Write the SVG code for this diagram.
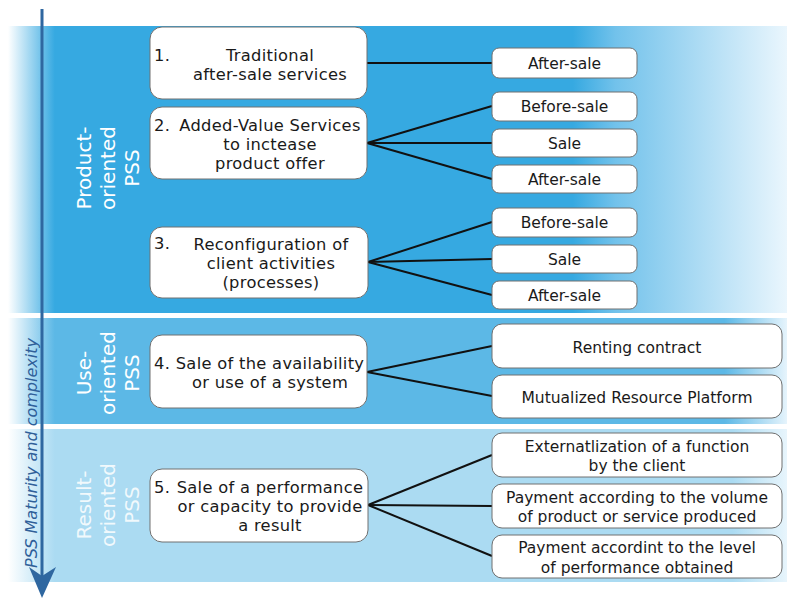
<svg xmlns="http://www.w3.org/2000/svg" width="787" height="599" viewBox="0 0 787 599">
<defs>
<linearGradient id="g1" gradientUnits="userSpaceOnUse" x1="8" y1="0" x2="787" y2="0">
<stop offset="0" stop-color="#ffffff"/>
<stop offset="0.06" stop-color="#36a9e1"/>
<stop offset="0.725" stop-color="#36a9e1"/>
<stop offset="0.78" stop-color="#72c2eb"/>
<stop offset="1" stop-color="#eaf6fd"/>
</linearGradient>
<linearGradient id="g2" gradientUnits="userSpaceOnUse" x1="8" y1="0" x2="787" y2="0">
<stop offset="0" stop-color="#ffffff"/>
<stop offset="0.06" stop-color="#5cb8e6"/>
<stop offset="0.92" stop-color="#5cb8e6"/>
<stop offset="1" stop-color="#e6f4fc"/>
</linearGradient>
<linearGradient id="g3" gradientUnits="userSpaceOnUse" x1="8" y1="0" x2="787" y2="0">
<stop offset="0" stop-color="#ffffff"/>
<stop offset="0.06" stop-color="#abdbf2"/>
<stop offset="0.93" stop-color="#abdbf2"/>
<stop offset="1" stop-color="#e8f5fc"/>
</linearGradient>
<style>
.node{fill:#ffffff;stroke:#707070;stroke-width:1}
.t{font-family:"DejaVu Sans","Liberation Sans",sans-serif;fill:#1a1a1a}
.L{font-size:16.3px;letter-spacing:0.3px}
.R{font-size:15.5px}
.c{text-anchor:middle}
.band{font-family:"DejaVu Sans","Liberation Sans",sans-serif;font-size:20px;fill:#ffffff;text-anchor:middle}
.conn{stroke:#111111;stroke-width:2;fill:none}
</style>
</defs>
<g id="bands">
<rect x="8" y="26" width="779" height="287" fill="url(#g1)"/>
<rect x="8" y="318" width="779" height="106" fill="url(#g2)"/>
<rect x="8" y="429" width="779" height="153" fill="url(#g3)"/>
</g>
<g id="axis">
<line x1="42" y1="9" x2="42" y2="578" stroke="#2f67a0" stroke-width="3"/>
<path d="M29,567 L42,598 L56,567 L42,576 Z" fill="#2f67a0"/>
<text transform="translate(37,453) rotate(-90)" text-anchor="middle" font-family="'DejaVu Sans','Liberation Sans',sans-serif" font-style="italic" font-size="16" fill="#2f5f99">PSS Maturity and complexity</text>
</g>
<g id="band-labels">
<g transform="translate(0,168) rotate(-90)">
<text class="band" x="0" y="91">Product-</text>
<text class="band" x="0" y="115">oriented</text>
<text class="band" x="0" y="139">PSS</text>
</g>
<g transform="translate(0,373) rotate(-90)">
<text class="band" x="0" y="91">Use-</text>
<text class="band" x="0" y="115">oriented</text>
<text class="band" x="0" y="139">PSS</text>
</g>
<g transform="translate(0,505) rotate(-90)">
<text class="band" x="0" y="91" fill-opacity="0.85">Result-</text>
<text class="band" x="0" y="115" fill-opacity="0.85">oriented</text>
<text class="band" x="0" y="139" fill-opacity="0.85">PSS</text>
</g>
</g>
<g id="connectors">
<line class="conn" x1="367" y1="63" x2="492" y2="63"/>
<line class="conn" x1="367" y1="143" x2="492" y2="106"/>
<line class="conn" x1="367" y1="143" x2="492" y2="143"/>
<line class="conn" x1="367" y1="143" x2="492" y2="179"/>
<line class="conn" x1="368" y1="262" x2="492" y2="222"/>
<line class="conn" x1="368" y1="262" x2="492" y2="259"/>
<line class="conn" x1="368" y1="262" x2="492" y2="295"/>
<line class="conn" x1="367" y1="372" x2="492" y2="346"/>
<line class="conn" x1="367" y1="372" x2="492" y2="396"/>
<line class="conn" x1="368" y1="505" x2="492" y2="455"/>
<line class="conn" x1="368" y1="505" x2="492" y2="506"/>
<line class="conn" x1="368" y1="505" x2="492" y2="556"/>
</g>
<g id="n1">
<rect class="node" x="150" y="27" width="217" height="72" rx="12"/>
<text class="t L" x="154" y="61">1.</text>
<text class="t L c" x="270" y="61">Traditional</text>
<text class="t L c" x="270" y="80">after-sale services</text>
</g>
<g id="n2">
<rect class="node" x="150" y="107" width="217" height="72" rx="12"/>
<text class="t L" x="154" y="131">2.</text>
<text class="t L c" x="270" y="131">Added-Value Services</text>
<text class="t L c" x="270" y="150">to inctease</text>
<text class="t L c" x="270" y="169">product offer</text>
</g>
<g id="n3">
<rect class="node" x="150" y="227" width="218" height="71" rx="12"/>
<text class="t L" x="154" y="249">3.</text>
<text class="t L c" x="271" y="250">Reconfiguration of</text>
<text class="t L c" x="271" y="269">client activities</text>
<text class="t L c" x="271" y="288">(processes)</text>
</g>
<g id="n4">
<rect class="node" x="150" y="335" width="217" height="73" rx="12"/>
<text class="t L" x="154" y="369">4.</text>
<text class="t L c" x="270" y="369">Sale of the availability</text>
<text class="t L c" x="270" y="388">or use of a system</text>
</g>
<g id="n5">
<rect class="node" x="150" y="469" width="218" height="73" rx="12"/>
<text class="t L" x="154" y="493">5.</text>
<text class="t L c" x="270" y="493">Sale of a performance</text>
<text class="t L c" x="270" y="512">or capacity to provide</text>
<text class="t L c" x="270" y="531">a result</text>
</g>
<g id="r1">
<rect class="node" x="492" y="48" width="145" height="30" rx="7"/>
<text class="t R c" x="564.5" y="69">After-sale</text>
</g>
<g id="r2">
<rect class="node" x="492" y="92" width="145" height="29" rx="7"/>
<text class="t R c" x="564.5" y="112">Before-sale</text>
</g>
<g id="r3">
<rect class="node" x="492" y="129" width="145" height="28" rx="7"/>
<text class="t R c" x="564.5" y="149">Sale</text>
</g>
<g id="r4">
<rect class="node" x="492" y="165" width="145" height="28" rx="7"/>
<text class="t R c" x="564.5" y="185">After-sale</text>
</g>
<g id="r5">
<rect class="node" x="492" y="208" width="145" height="29" rx="7"/>
<text class="t R c" x="564.5" y="228">Before-sale</text>
</g>
<g id="r6">
<rect class="node" x="492" y="245" width="145" height="28" rx="7"/>
<text class="t R c" x="564.5" y="265">Sale</text>
</g>
<g id="r7">
<rect class="node" x="492" y="281" width="145" height="28" rx="7"/>
<text class="t R c" x="564.5" y="301">After-sale</text>
</g>
<g id="r8">
<rect class="node" x="492" y="324" width="290" height="44" rx="10"/>
<text class="t R c" x="637" y="353">Renting contract</text>
</g>
<g id="r9">
<rect class="node" x="492" y="375" width="290" height="43" rx="10"/>
<text class="t R c" x="637" y="403">Mutualized Resource Platform</text>
</g>
<g id="r10">
<rect class="node" x="492" y="433" width="290" height="44" rx="10"/>
<text class="t R c" x="637" y="452">Externatlization of a function</text>
<text class="t R c" x="637" y="471">by the client</text>
</g>
<g id="r11">
<rect class="node" x="492" y="484" width="290" height="44" rx="10"/>
<text class="t R c" x="637" y="503">Payment according to the volume</text>
<text class="t R c" x="637" y="522">of product or service produced</text>
</g>
<g id="r12">
<rect class="node" x="492" y="535" width="290" height="43" rx="10"/>
<text class="t R c" x="637" y="553">Payment accordint to the level</text>
<text class="t R c" x="637" y="573">of performance obtained</text>
</g>
</svg>
